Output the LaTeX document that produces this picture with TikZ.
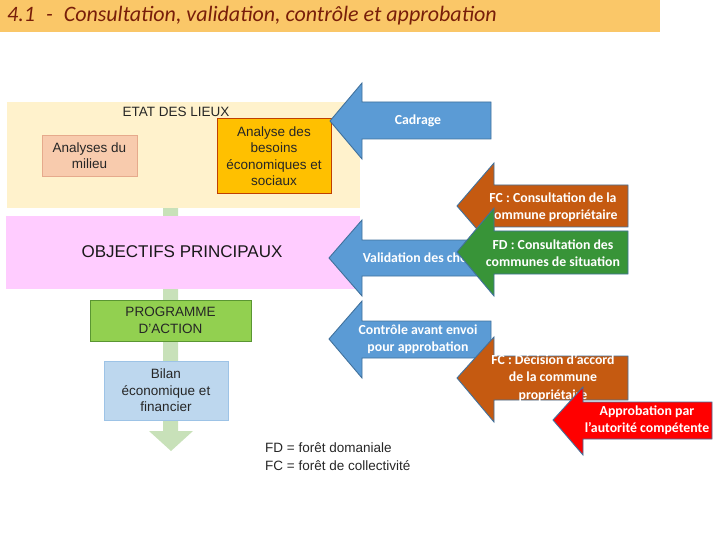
\documentclass[tikz,border=0pt]{standalone}
\usepackage{fontspec}
\setmainfont{Liberation Sans}
\newfontfamily\calib{Carlito}
\definecolor{titlebar}{RGB}{250,199,104}
\definecolor{titletext}{RGB}{120,30,10}
\definecolor{beige}{RGB}{255,242,204}
\definecolor{pinkband}{RGB}{255,204,255}
\definecolor{salmon}{RGB}{248,203,173}
\definecolor{salmonline}{RGB}{230,170,140}
\definecolor{gold}{RGB}{255,192,0}
\definecolor{goldline}{RGB}{192,64,0}
\definecolor{progfill}{RGB}{146,208,80}
\definecolor{progline}{RGB}{90,150,50}
\definecolor{bilanfill}{RGB}{189,215,238}
\definecolor{bilanline}{RGB}{157,195,230}
\definecolor{stem}{RGB}{200,225,185}
\definecolor{cblue}{RGB}{91,155,213}
\definecolor{corange}{RGB}{197,90,17}
\definecolor{cgreen}{RGB}{56,148,56}
\definecolor{cred}{RGB}{255,0,0}
\definecolor{arrline}{RGB}{65,113,156}
\newcommand{\blockarrow}[9]{\draw[arrowline,fill=#1] (#2,#3) -- (#4,#5) -- (#4,#7) -- (#9,#7) -- (#9,#8) -- (#4,#8) -- (#4,#6) -- cycle;}
\begin{document}
\begin{tikzpicture}[x=1pt,y=-1pt,
  arrowline/.style={draw=arrline,line width=0.9pt,line join=miter},
  arrtext/.style={text=white,align=center,inner sep=0pt,font=\calib\bfseries\fontsize{13.8}{17.2}\selectfont},
  boxtext/.style={align=center,inner sep=0pt,text=black!85,font=\fontsize{13.5}{16.5}\selectfont},
  boxstyle/.style={line width=0.8pt}]
\useasboundingbox (0,0) rectangle (720,540);
% title
\fill[titlebar] (0,0) rectangle (660,32);
\node[anchor=west,inner sep=0pt,text=titletext,font=\calib\itshape\fontsize{22}{25}\selectfont] (title) at (7,16) {4.1\enspace-\enspace Consultation, validation, contrôle et approbation};
% green stem arrow
\fill[stem] (163,200) -- (178,200) -- (178,431) -- (193,431) -- (171,451) -- (149,431) -- (163,431) -- cycle;
% bands
\fill[beige] (7,102) rectangle (360,208);
\fill[pinkband] (6,216) rectangle (360,289);
\node[inner sep=0pt,text=black!85,font=\fontsize{13.5}{16}\selectfont] (etat) at (176,112) {ETAT DES LIEUX};
\node[inner sep=0pt,text=black!90,font=\fontsize{17}{20}\selectfont] (obj) at (182,252) {OBJECTIFS PRINCIPAUX};
% boxes
\draw[boxstyle,fill=salmon,draw=salmonline] (42,135) rectangle (137,176);
\node[boxtext] (milieu) at (89.5,155.5) {Analyses du\\milieu};
\draw[boxstyle,fill=gold,draw=goldline] (217,118) rectangle (331,193);
\node[boxtext] (besoins) at (274,156) {Analyse des\\besoins\\économiques et\\sociaux};
\draw[boxstyle,fill=progfill,draw=progline] (90,300) rectangle (251,341);
\node[boxtext] (prog) at (170.5,320.5) {PROGRAMME\\D'ACTION};
\draw[boxstyle,fill=bilanfill,draw=bilanline] (104,361) rectangle (228,420);
\node[boxtext] (bilan) at (166,390.5) {Bilan\\économique et\\financier};
% legend
\node[anchor=west,align=left,inner sep=0pt,text=black!85,font=\fontsize{13.5}{18}\selectfont] (legend) at (265,457) {FD = forêt domaniale\\FC = forêt de collectivité};
% arrows
\blockarrow{cblue}{330}{121}{362}{83}{159}{102}{139}{491}
\node[arrtext] (cadrage) at (418,121) {Cadrage};
\blockarrow{corange}{457}{206}{494}{163}{249}{185}{227}{628}
\node[arrtext] (fc1) at (553,207) {FC : Consultation de la\\commune propriétaire};
\blockarrow{cblue}{329}{258}{362}{220}{296}{240}{276}{491}
\node[arrtext] (valid) at (420,258) {Validation des choix};
\blockarrow{cgreen}{457}{252}{494}{208}{296}{231}{274}{628}
\node[arrtext] (fd) at (553,253) {FD : Consultation des\\communes de situation};
\blockarrow{cblue}{329}{339}{362}{301}{378}{321}{358}{491}
\node[arrtext] (controle) at (418,339) {Contrôle avant envoi\\pour approbation};
\blockarrow{corange}{457}{378}{494}{337}{422}{356}{400}{628}
\node[arrtext] (fc2) at (553,378) {FC : Décision d’accord\\de la commune\\propriétaire};
\blockarrow{cred}{553}{420}{583}{387}{455}{402}{439}{712}
\node[arrtext] (approb) at (647,420) {Approbation par\\l’autorité compétente};
\end{tikzpicture}
\end{document}
